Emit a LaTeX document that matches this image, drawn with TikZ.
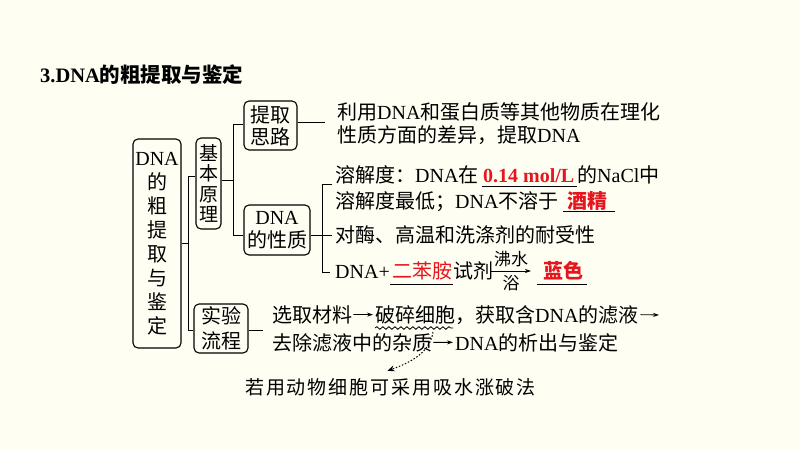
\documentclass[tikz,border=0pt]{standalone}
\usepackage{fontspec}
\setmainfont{Noto Sans CJK SC}
\newfontfamily\lat{Liberation Serif}
\newfontfamily\hand{Noto Sans CJK SC}[LetterSpace=10]
\usetikzlibrary{arrows.meta,decorations.pathmorphing,calc}
\definecolor{bg}{HTML}{FEFEF3}
\definecolor{ans}{RGB}{230,22,30}
\newcommand\Dna{{\lat DNA}}
\begin{document}
\begin{tikzpicture}[x=1pt,y=-1pt,
  box/.style={draw,line width=1.1pt,rounded corners=5pt,inner sep=0pt,align=center},
  ln/.style={line width=0.9pt},
  txt/.style={anchor=base west,inner sep=0pt,font=\fontsize{20}{24}\selectfont},
  small/.style={anchor=base,inner sep=0pt,font=\fontsize{17}{20}\selectfont},
  uline/.style={line width=0.8pt},
  arr/.style={line width=0.8pt,-{Stealth[length=6pt,width=4pt]}}]
\fill[bg] (0,0) rectangle (800,450);
\useasboundingbox (0,0) rectangle (800,450);

% title
\node[txt,font=\fontsize{20.5}{24}\selectfont\bfseries] (title) at (40,82) {{\lat\bfseries 3.DNA}的粗提取与鉴定};

% boxes
\node[box,minimum width=48pt,minimum height=209pt,font=\fontsize{20}{24}\selectfont] (main) at (157,243.5) {\Dna\\的\\粗\\提\\取\\与\\鉴\\定};
\node[box,minimum width=25pt,minimum height=91pt,font=\fontsize{19}{20.3}\selectfont] (basic) at (208.5,183.5) {基\\本\\原\\理};
\node[box,minimum width=53pt,minimum height=49pt,font=\fontsize{20}{22}\selectfont] (idea) at (270.5,125.5) {提取\\思路};
\node[box,minimum width=66pt,minimum height=50pt,font=\fontsize{20}{23}\selectfont] (prop) at (277,230) {\Dna\\的性质};
\node[box,minimum width=54pt,minimum height=49pt,font=\fontsize{20}{25}\selectfont] (exp) at (221,328.5) {实验\\流程};

% trunk 1
\coordinate (t1) at (188,176);
\coordinate (t2) at (188,330);
\draw[ln] (main.east) -- (main.east -| t1);
\draw[ln] (basic.west |- t1) -| (t2) -- (exp.west |- t2);

% trunk 2
\coordinate (b1) at (233,124);
\coordinate (b2) at (233,235);
\coordinate (y180) at (0,180);
\draw[ln] (basic.east |- y180) -- (b1 |- y180);
\draw[ln] (idea.west |- b1) -| (b2) -- (prop.west |- b2);

% idea text
\coordinate (c1) at (325,122);
\draw[ln] (idea.east |- c1) -- (c1);
\node[txt] (i1) at (337,119) {利用\Dna 和蛋白质等其他物质在理化};
\node[txt] (i2) at (337,142) {性质方面的差异，提取\Dna};

% properties bracket
\coordinate (k1) at (332,184);
\coordinate (kc) at (322,272);
\coordinate (k2) at (330,272);
\coordinate (km) at (332,235);
\draw[ln] (prop.east |- b2) -- (km);
\draw[ln] (k1) -| (kc) -- (k2);

\node[txt] (p1a) at (335,182) {溶解度：\Dna 在};
\node[txt,text=ans,font=\fontsize{20}{24}\lat\bfseries] (p1b) at (483,182) {0.14 mol/L};
\node[txt] (p1c) at (577,182) {的{\lat NaCl}中};
\draw[uline] (482,186.5) -- (577,186.5);

\node[txt] (p2a) at (335,208) {溶解度最低；\Dna 不溶于};
\node[txt,text=ans,font=\fontsize{20}{24}\selectfont\bfseries] (p2b) at (567,208) {酒精};
\draw[uline] (563,211.5) -- (615,211.5);

\node[txt] (p3) at (335,242) {对酶、高温和洗涤剂的耐受性};

\node[txt] (p4a) at (335,278) {{\lat DNA+}};
\node[txt,text=ans] (p4b) at (392,278) {二苯胺};
\draw[uline] (390,284) -- (453,284);
\node[txt] (p4c) at (453,278) {试剂};
\coordinate (ra) at (491,271);
\coordinate (rb) at (531,271);
\draw[arr] (ra) -- (rb);
\node[small] (boil) at (511,265) {沸水};
\node[small] (bath) at (511,289) {浴};
\node[txt,text=ans,font=\fontsize{20}{24}\selectfont\bfseries] (p4d) at (543,278) {蓝色};
\draw[uline] (537,284) -- (587,284);

% experiment flow
\coordinate (e1) at (263,330);
\draw[ln] (exp.east |- e1) -- (e1);
\node[txt] (f1) at (272,322) {选取材料};
\node[txt] (f2) at (375,322) {破碎细胞，获取含\Dna 的滤液};
\coordinate (f2end) at (659,315);
\node[txt] (f3) at (272,350) {去除滤液中的杂质};
\node[txt] (f4) at (455,350) {\Dna 的析出与鉴定};
\draw[arr] ([xshift=1pt]f1.east) -- ([xshift=-2pt]f2.west);
\draw[arr] ([xshift=2pt]f2.east) -- (f2end);
\draw[arr] ([xshift=1pt]f3.east) -- ([xshift=-2pt]f4.west);

\draw[line width=0.8pt,decorate,decoration={snake,amplitude=1.3pt,segment length=6pt}] (375,328) -- (453,328);

% note
\node[anchor=base west,inner sep=0pt,font=\fontsize{19}{22}\hand] (note) at (245,394) {若用动物细胞可采用吸水涨破法};
\coordinate (ds) at (433,332);
\draw[line width=1pt,dash pattern=on 1.5pt off 1.8pt,-{Stealth[length=7pt,width=6pt]}] (ds) .. controls (430,352) and (412,362) .. ([xshift=-3pt,yshift=7pt]note.north);
\end{tikzpicture}
\end{document}
